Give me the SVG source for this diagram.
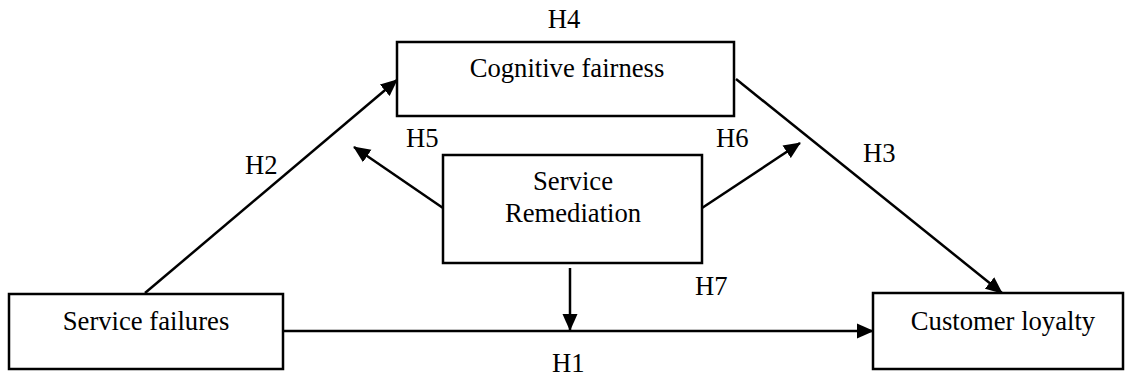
<svg xmlns="http://www.w3.org/2000/svg" width="1125" height="378" viewBox="0 0 1125 378">
  <style>
    .box { fill: #ffffff; stroke: #000000; stroke-width: 2.5; }
    .lbl { font-family: "Liberation Serif", "Times New Roman", serif; font-size: 26.67px; fill: #000000; }
    .mid { text-anchor: middle; }
    .edge { stroke: #000000; stroke-width: 2.5; fill: none; }
    .arr { marker-end: url(#head); }
  </style>
  <defs>
    <marker id="head" markerUnits="userSpaceOnUse" markerWidth="17" markerHeight="16" viewBox="0 0 17 16" refX="16" refY="8" orient="auto">
      <path d="M0,0.5 L17,8 L0,15.5 Z" fill="#000000"/>
    </marker>
  </defs>

  <rect width="1125" height="378" fill="#ffffff"/>

  <!-- connectors -->
  <g id="connectors">
    <line class="edge arr" x1="145" y1="293" x2="397" y2="80"/>
    <line class="edge arr" x1="736" y1="79" x2="1002" y2="293"/>
    <line class="edge arr" x1="283" y1="331" x2="873" y2="331"/>
    <line class="edge arr" x1="443" y1="208" x2="354" y2="147"/>
    <line class="edge arr" x1="702" y1="208" x2="800" y2="143"/>
    <line class="edge arr" x1="570" y1="268" x2="570" y2="330"/>
  </g>

  <!-- hypothesis labels -->
  <g id="labels">
    <text class="lbl mid" x="564" y="28">H4</text>
    <text class="lbl" x="245" y="174">H2</text>
    <text class="lbl" x="406" y="147">H5</text>
    <text class="lbl" x="716" y="147">H6</text>
    <text class="lbl" x="863" y="162">H3</text>
    <text class="lbl" x="695" y="295">H7</text>
    <text class="lbl" x="552" y="372">H1</text>
  </g>

  <g id="cognitive-fairness">
    <rect class="box" x="397" y="42" width="337" height="74"/>
    <text class="lbl mid" x="567" y="77">Cognitive fairness</text>
  </g>

  <g id="service-remediation">
    <rect class="box" x="443" y="155" width="259" height="108"/>
    <text class="lbl mid" x="573" y="190">Service</text>
    <text class="lbl mid" x="573" y="222">Remediation</text>
  </g>

  <g id="service-failures">
    <rect class="box" x="9" y="294" width="274" height="75"/>
    <text class="lbl mid" x="146" y="330">Service failures</text>
  </g>

  <g id="customer-loyalty">
    <rect class="box" x="873" y="293" width="250" height="76"/>
    <text class="lbl mid" x="1003" y="330">Customer loyalty</text>
  </g>
</svg>
